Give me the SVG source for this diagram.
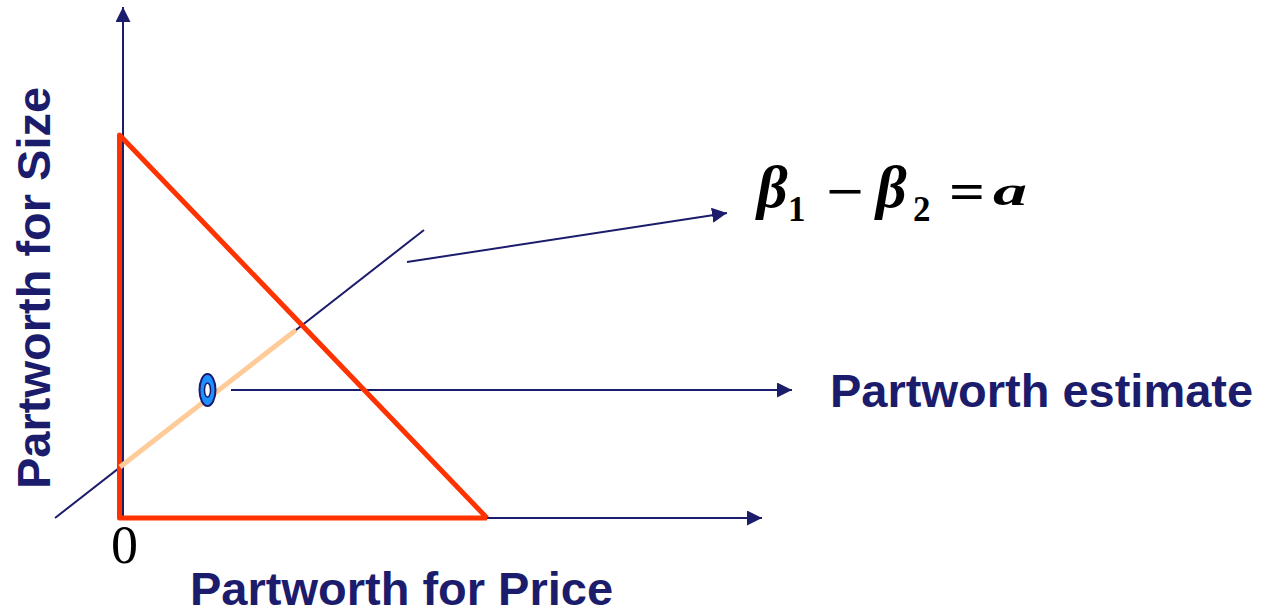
<svg xmlns="http://www.w3.org/2000/svg" width="1262" height="613" viewBox="0 0 1262 613">
<style>
.ax{stroke:#1c1c6c;stroke-width:2;fill:none}
.arr{marker-end:url(#ah)}
.red{stroke:#ff3300;stroke-width:5;fill:none;stroke-linejoin:round}
.lbl{font-family:"Liberation Sans",Arial,sans-serif;font-weight:bold;font-size:47px;fill:#1c1c6c}
.math{font-family:"Liberation Serif","Times New Roman",serif;fill:#000}
.gr{font-size:60px;font-style:italic;font-weight:bold}
.sub{font-size:35px;font-weight:bold}
.op{font-size:52px;font-weight:bold}
</style>
<defs>
<marker id="ah" markerUnits="userSpaceOnUse" markerWidth="16" markerHeight="16" viewBox="0 0 16 16" refX="15" refY="7.5" orient="auto">
<path d="M0,0 L15,7.5 L0,15 z" fill="#1c1c6c"/>
</marker>
</defs>
<rect width="1262" height="613" fill="#fff"/>
<g id="connectors">
<line class="ax arr" x1="123" y1="518" x2="123" y2="7"/>
<line class="ax arr" x1="487" y1="518" x2="762" y2="518"/>
<line class="ax" x1="55" y1="518" x2="424" y2="230"/>
<line class="ax arr" x1="407" y1="262" x2="727" y2="213"/>
<line class="ax arr" x1="231" y1="390" x2="792" y2="390"/>
</g>
<g id="feasible-region">
<polyline class="red" points="487,518 119.5,518 119.5,135 487,518"/>
</g>
<g id="estimate-segment">
<line x1="120" y1="467" x2="296" y2="330" stroke="#ffcc99" stroke-width="5"/>
</g>
<g id="estimate-point">
<ellipse cx="207.5" cy="390" rx="8" ry="16" fill="#1e90ff" stroke="#1c1c6c" stroke-width="2"/>
<ellipse cx="207.5" cy="390" rx="3" ry="7" fill="#fff" stroke="#1c1c6c" stroke-width="1.5"/>
</g>
<g id="equation" class="math">
<text class="gr" x="757" y="207">β</text>
<text class="sub" x="788" y="221">1</text>
<text class="op" x="826" y="209" textLength="38" lengthAdjust="spacingAndGlyphs">−</text>
<text class="gr" x="876" y="207">β</text>
<text class="sub" x="913" y="221">2</text>
<text class="op" x="949" y="209" textLength="36" lengthAdjust="spacingAndGlyphs">=</text>
<text x="993" y="205" font-size="40" font-style="italic" font-weight="bold" textLength="34" lengthAdjust="spacingAndGlyphs">a</text>
</g>
<g id="label-estimate">
<text class="lbl" x="830" y="407">Partworth estimate</text>
</g>
<g id="label-x">
<text class="lbl" x="190" y="605">Partworth for Price</text>
</g>
<g id="label-y">
<text class="lbl" transform="translate(50,489) rotate(-90)">Partworth for Size</text>
</g>
<g id="origin">
<text class="math" x="124.5" y="563" font-size="54" text-anchor="middle">0</text>
</g>
</svg>
